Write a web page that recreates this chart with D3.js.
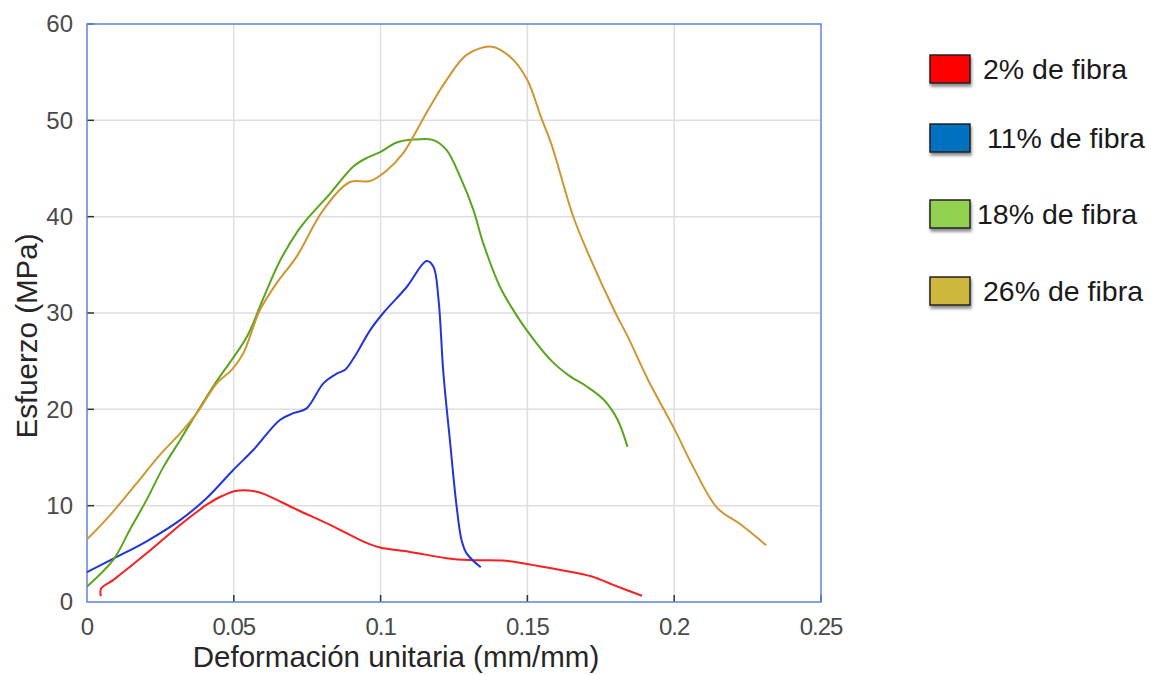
<!DOCTYPE html>
<html>
<head>
<meta charset="utf-8">
<script src="https://cdn.jsdelivr.net/npm/d3@7"></script>
<style>
  body { margin: 0; background: #fff; }
  svg text { font-family: "Liberation Sans", Arial, sans-serif; }
</style>
</head>
<body>
<div id="chart"></div>
<script>
// strain (mm/mm) / stress (MPa) pairs
const fiber2 = [[0.0047,0.6],[0.0048,1.4],[0.009,2.3],[0.0203,5.05],[0.0317,8.0],[0.0385,9.6],[0.0408,10.1],
  [0.046,11.0],[0.051,11.55],[0.0578,11.45],[0.0612,11.1],[0.0714,9.6],[0.0828,8.0],[0.094,6.3],[0.0998,5.65],
  [0.11,5.2],[0.1225,4.55],[0.13,4.35],[0.1417,4.3],[0.1498,3.95],[0.16,3.4],[0.172,2.65],[0.179,1.8],[0.189,0.65]];
const fiber11 = [[0,3.1],[0.009,4.5],[0.0203,6.3],[0.0317,8.5],[0.0408,10.8],[0.0498,13.7],[0.0567,15.8],
  [0.0657,18.9],[0.0703,19.6],[0.0748,20.1],[0.0805,22.7],[0.085,23.7],[0.0879,24.1],[0.0918,25.8],[0.0964,28.2],
  [0.1009,30.0],[0.1089,32.7],[0.1157,35.4],[0.118,34.8],[0.1197,31.5],[0.1214,23.7],[0.1236,16.8],[0.1259,9.9],
  [0.1276,6.4],[0.1293,5.05],[0.1341,3.6]];
const fiber18 = [[0,1.6],[0.009,4.4],[0.0146,7.5],[0.0203,10.6],[0.026,14.0],[0.0317,16.8],[0.043,22.4],[0.0544,27.5],
  [0.06,31.5],[0.0657,35.4],[0.072,38.6],[0.0748,39.7],[0.0828,42.4],[0.0907,45.2],[0.0953,46.1],[0.0998,46.7],
  [0.1055,47.7],[0.1111,48.0],[0.118,47.95],[0.1225,46.9],[0.127,44.2],[0.1316,40.7],[0.135,37.2],[0.1407,32.7],
  [0.1452,30.3],[0.1498,28.2],[0.1583,25.0],[0.1642,23.5],[0.1701,22.4],[0.176,21.0],[0.1806,19.0],[0.1841,16.1]];
const fiber26 = [[0,6.5],[0.0078,9.0],[0.0163,12.1],[0.0249,15.3],[0.0317,17.5],[0.0374,19.6],[0.0442,22.7],[0.0493,24.1],
  [0.0532,25.8],[0.0589,30.3],[0.0646,33.1],[0.0714,35.85],[0.0805,40.7],[0.0896,43.6],[0.0964,43.7],[0.1021,44.8],
  [0.1077,46.6],[0.1111,48.3],[0.1168,51.4],[0.1225,54.2],[0.1293,56.8],[0.1378,57.65],[0.1441,56.6],[0.1498,54.3],
  [0.1548,50.2],[0.1583,47.4],[0.1654,40.2],[0.1701,36.6],[0.18,30.0],[0.1841,27.6],[0.1912,23.0],[0.2,18.0],
  [0.2065,14.0],[0.2147,9.75],[0.2229,8.0],[0.2313,5.9]];

const seriesNames = ["2% de fibra", "11% de fibra", "18% de fibra", "26% de fibra"];
const lineColors = ["#fa1e1e", "#2236d8", "#5aa51e", "#cf9632"];
const legendColors = ["#ff0000", "#0070c0", "#92d050", "#cdb83c"];
const xTicks = [0, 0.05, 0.1, 0.15, 0.2, 0.25];
const xTickLabels = ["0", "0.05", "0.1", "0.15", "0.2", "0.25"];
const yTicks = [0, 10, 20, 30, 40, 50, 60];

const allSeries = [fiber2, fiber11, fiber18, fiber26];

const W = 1152, H = 675;
const margin = { top: 24, left: 87 };
const width = 734, height = 578;

const svg = d3.select("#chart").append("svg")
  .attr("width", W).attr("height", H);

const defs = svg.append("defs");
const f = defs.append("filter").attr("id", "shadow").attr("x", "-20%").attr("y", "-20%").attr("width", "150%").attr("height", "160%");
f.append("feDropShadow").attr("dx", 1).attr("dy", 3).attr("stdDeviation", 1.5).attr("flood-color", "#000").attr("flood-opacity", 0.45);

const g = svg.append("g").attr("transform", "translate(" + margin.left + "," + margin.top + ")");

const x = d3.scaleLinear().domain([0, 0.25]).range([0, width]);
const y = d3.scaleLinear().domain([0, 60]).range([height, 0]);

// grid
g.selectAll(".vgrid").data(xTicks.slice(1, -1)).enter().append("line")
  .attr("x1", d => x(d)).attr("x2", d => x(d)).attr("y1", 0).attr("y2", height)
  .attr("stroke", "#dedede").attr("stroke-width", 1.5);
g.selectAll(".hgrid").data(yTicks.slice(1, -1)).enter().append("line")
  .attr("x1", 0).attr("x2", width).attr("y1", d => y(d)).attr("y2", d => y(d))
  .attr("stroke", "#dedede").attr("stroke-width", 1.5);

// inner ticks
g.selectAll(".xt").data(xTicks.slice(1)).enter().append("line")
  .attr("x1", d => x(d)).attr("x2", d => x(d)).attr("y1", height).attr("y2", height - 7)
  .attr("stroke", "#333").attr("stroke-width", 1.5);
g.selectAll(".yt").data(yTicks.slice(1)).enter().append("line")
  .attr("x1", 0).attr("x2", 7).attr("y1", d => y(d)).attr("y2", d => y(d))
  .attr("stroke", "#333").attr("stroke-width", 1.5);

// frame
g.append("rect").attr("x", 0).attr("y", 0).attr("width", width).attr("height", height)
  .attr("fill", "none").attr("stroke", "#5b84dc").attr("stroke-width", 1.5);

// tick labels
g.selectAll(".xl").data(xTicks).enter().append("text")
  .attr("x", d => x(d)).attr("y", height + 33)
  .attr("text-anchor", "middle").attr("font-size", 24).attr("letter-spacing", -1)
  .attr("fill", "#4a4a4a")
  .text((d, i) => xTickLabels[i]);
g.selectAll(".yl").data(yTicks).enter().append("text")
  .attr("x", -14).attr("y", d => y(d)).attr("dy", "0.35em")
  .attr("text-anchor", "end").attr("font-size", 24)
  .attr("fill", "#4a4a4a")
  .text(d => d);

// axis titles
svg.append("text").attr("x", 396).attr("y", 667).attr("text-anchor", "middle")
  .attr("font-size", 29.5).attr("fill", "#262626").text("Deformación unitaria (mm/mm)");
svg.append("text").attr("transform", "translate(37,336) rotate(-90)").attr("text-anchor", "middle")
  .attr("font-size", 29.5).attr("fill", "#262626").text("Esfuerzo (MPa)");

// curves
const line = d3.line().x(d => x(d[0])).y(d => y(d[1])).curve(d3.curveCatmullRom.alpha(0.5));
g.selectAll(".curve").data(allSeries).enter().append("path")
  .attr("d", line).attr("fill", "none")
  .attr("stroke", (d, i) => lineColors[i]).attr("stroke-width", 2)
  .attr("stroke-linejoin", "round");

// legend
const legendY = [55, 124, 200, 277];
const legendTextX = [983, 987, 977, 983];
const lg = svg.append("g");
seriesNames.forEach((name, i) => {
  lg.append("rect").attr("x", 930).attr("y", legendY[i]).attr("width", 40).attr("height", 28)
    .attr("fill", legendColors[i]).attr("stroke", "#222").attr("stroke-width", 1.5)
    .attr("filter", "url(#shadow)");
  lg.append("text").attr("x", legendTextX[i]).attr("y", legendY[i] + 14).attr("dy", "0.36em")
    .attr("font-size", 28.5).attr("fill", "#1a1a1a").text(name);
});
</script>
</body>
</html>
